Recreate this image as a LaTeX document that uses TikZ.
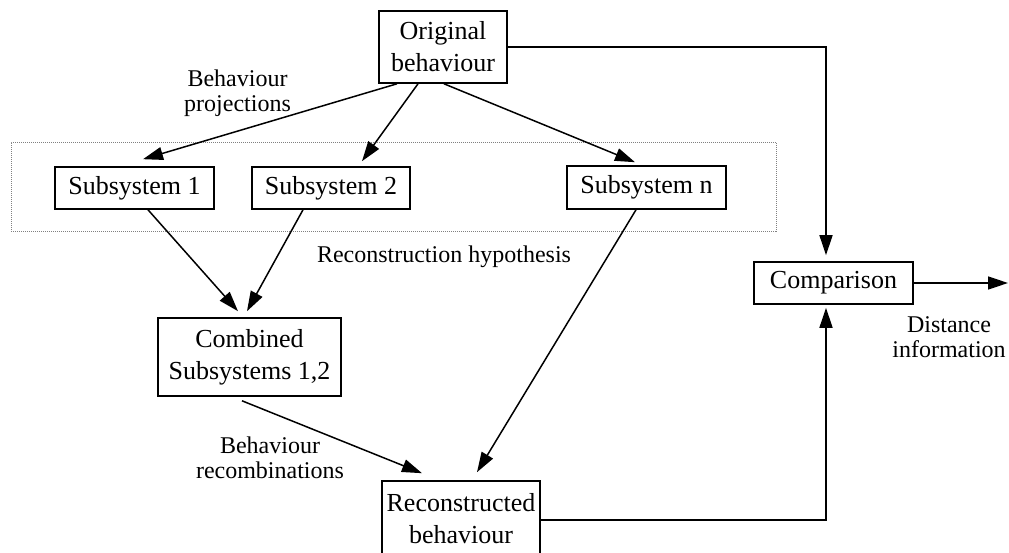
\documentclass[tikz,border=0pt]{standalone}
\usepackage{fontspec}
\setmainfont{Liberation Serif}
\usetikzlibrary{arrows.meta,calc}
\begin{document}
\begin{tikzpicture}[x=1pt,y=-1pt,
  box/.style={draw,line width=1.6pt,inner sep=0pt,align=center,font=\fontsize{26}{32}\selectfont},
  lbl/.style={inner sep=0pt,align=center,font=\fontsize{24}{25}\selectfont},
  arr/.style={line width=1.5pt,-{Triangle[length=20pt,width=13pt]}},
  group/.style={draw=gray,line width=0.8pt,dash pattern=on 1pt off 1pt,inner sep=0pt}]
\useasboundingbox (0,0) rectangle (1009,553);
\node[group,minimum width=765pt,minimum height=89pt] (grp) at (393.5,186.5) {};
\node[box,minimum width=128pt,minimum height=72pt] (orig) at (443,47) {Original\\behaviour};
\node[box,minimum width=159pt,minimum height=42pt] (s1) at (134.5,188) {Subsystem 1};
\node[box,minimum width=158pt,minimum height=42pt] (s2) at (331,188) {Subsystem 2};
\node[box,minimum width=159pt,minimum height=43pt] (sn) at (646.5,187.5) {Subsystem n};
\node[box,minimum width=159pt,minimum height=42pt] (comp) at (833.5,283) {Comparison};
\node[box,minimum width=183pt,minimum height=78pt] (comb) at (249.5,357) {Combined\\Subsystems 1,2};
\node[box,minimum width=158pt,minimum height=76pt] (rec) at (461,519) {Reconstructed\\behaviour};
\coordinate (out) at (1008,283);
\node[lbl] (lp) at (237.5,93) {Behaviour\\projections};
\node[lbl] (lh) at (444,257) {Reconstruction hypothesis};
\node[lbl] (lr) at (270,458) {Behaviour\\recombinations};
\node[lbl] (ld) at (949,337) {Distance\\information};
\draw[arr] ($(orig.south)+(-46,0)$) -- ($(s1.north)+(8.5,-7)$);
\draw[arr] ($(orig.south)+(-25,0)$) -- ($(s2.north)+(31,-5)$);
\draw[arr] ($(orig.south)+(1,0)$) -- ($(sn.north)+(-11.5,-3)$);
\draw[arr] (orig.east) -| ($(comp.north)+(-7.5,-6)$);
\draw[arr] ($(rec.east)+(0,1)$) -| ($(comp.south)+(-7.5,3)$);
\draw[arr] (comp.east) -- (out);
\draw[arr] ($(s1.south)+(13.5,0)$) -- ($(comb.north)+(-11.5,-6)$);
\draw[arr] ($(s2.south)+(-28,0)$) -- ($(comb.north)+(-2.5,-6)$);
\draw[arr] ($(comb.south)+(-7.5,4)$) -- ($(rec.north)+(-39,-7)$);
\draw[arr] ($(sn.south)+(-10.5,0)$) -- ($(rec.north)+(16,-8)$);
\end{tikzpicture}
\end{document}
